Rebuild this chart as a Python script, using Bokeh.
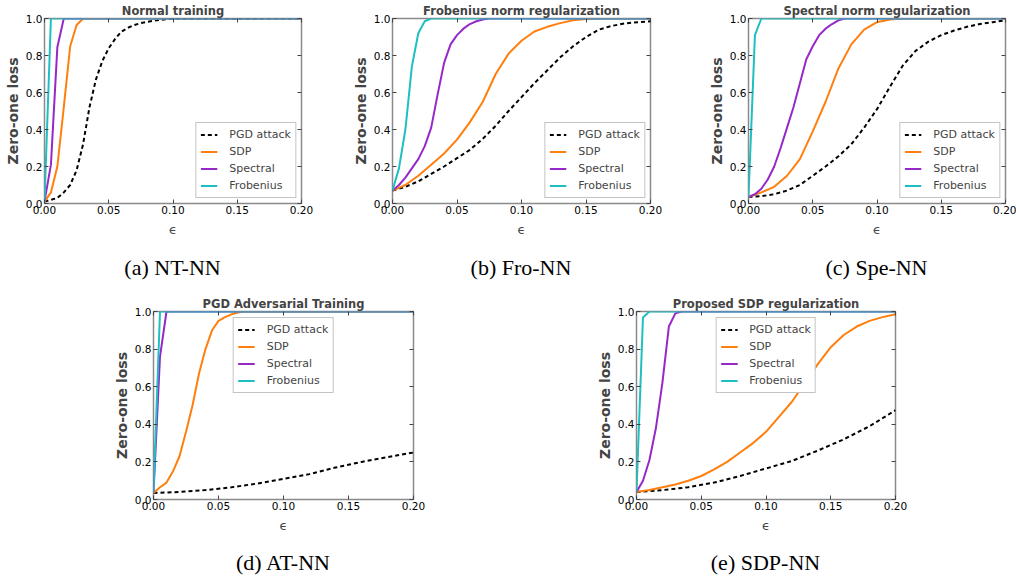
from bokeh.plotting import figure
from bokeh.layouts import column, row
from bokeh.models import (Range1d, FixedTicker, PrintfTickFormatter, LinearAxis,
                          Legend, LegendItem, CustomJSTickFormatter, Div, Spacer)
from bokeh.embed import file_html
from bokeh.resources import INLINE

# ---------------- data ----------------
x10 = [0.00, 0.01, 0.02, 0.03, 0.04, 0.05, 0.06, 0.07, 0.08, 0.09, 0.10,
       0.11, 0.12, 0.13, 0.14, 0.15, 0.16, 0.17, 0.18, 0.19, 0.20]
x20 = [0.00, 0.02, 0.04, 0.06, 0.08, 0.10, 0.12, 0.14, 0.16, 0.18, 0.20]

# (a) Normal training
a_pgd_x = [0, .005, .01, .015, .02, .025, .03, .035, .04, .045, .05, .055, .06, .065,
           .07, .075, .08, .085, .09, .095, .10, .20]
a_pgd_y = [.01, .02, .03, .06, .10, .18, .32, .52, .67, .77, .84, .89, .93, .95,
           .965, .975, .982, .988, .992, .996, .998, 1.0]
a_sdp_x = [0, .005, .01, .015, .02, .025, .03, .20]
a_sdp_y = [.01, .06, .20, .52, .85, .965, 1.0, 1.0]
a_spe_x = [0, .005, .01, .015, .20]
a_spe_y = [.01, .21, .845, 1.0, 1.0]
a_fro_x = [0, .005, .20]
a_fro_y = [.01, 1.0, 1.0]

# (b) Frobenius norm regularization
b_pgd_y = [.07, .09, .12, .16, .20, .245, .29, .35, .42, .50, .575, .65, .72, .79,
           .85, .90, .94, .96, .973, .98, .985]
b_sdp_y = [.07, .10, .15, .21, .27, .345, .44, .55, .70, .81, .88, .93, .955, .975,
           .99, .997, 1.0, 1.0, 1.0, 1.0, 1.0]
b_spe_x = [0, .005, .01, .015, .02, .025, .03, .035, .04, .045, .05, .055, .06, .065,
           .07, .075, .20]
b_spe_y = [.07, .10, .14, .19, .24, .31, .41, .59, .76, .86, .91, .945, .97, .985,
           .995, 1.0, 1.0]
b_fro_x = [0, .005, .01, .015, .02, .025, .03, .20]
b_fro_y = [.07, .19, .40, .74, .92, .985, 1.0, 1.0]

# (c) Spectral norm regularization
c_pgd_y = [.035, .04, .05, .07, .10, .15, .20, .255, .32, .41, .51, .63, .745, .825,
           .875, .91, .935, .955, .97, .98, .99]
c_sdp_y = [.035, .06, .09, .15, .24, .39, .55, .73, .86, .94, .98, .995, 1.0, 1.0,
           1.0, 1.0, 1.0, 1.0, 1.0, 1.0, 1.0]
c_spe_x = [0, .005, .01, .015, .02, .025, .03, .035, .04, .045, .05, .055, .06, .065,
           .07, .075, .20]
c_spe_y = [.035, .05, .08, .13, .20, .30, .41, .52, .65, .78, .85, .91, .945, .97,
           .99, 1.0, 1.0]
c_fro_x = [0, .005, .01, .20]
c_fro_y = [.035, .91, 1.0, 1.0]

# (d) PGD adversarial training
d_pgd_y = [.035, .04, .05, .065, .085, .11, .135, .17, .20, .225, .25]
d_sdp_x = [0, .005, .01, .015, .02, .025, .03, .035, .04, .045, .05, .055, .06, .065,
           .07, .20]
d_sdp_y = [.035, .065, .09, .15, .23, .36, .50, .67, .80, .90, .95, .97, .985, .995,
           1.0, 1.0]
d_spe_x = [0, .005, .01, .20]
d_spe_y = [.035, .76, 1.0, 1.0]
d_fro_x = [0, .005, .20]
d_fro_y = [.035, 1.0, 1.0]

# (e) Proposed SDP regularization
e_pgd_y = [.04, .05, .065, .09, .125, .165, .205, .26, .32, .39, .475]
e_sdp_y = [.04, .05, .065, .08, .10, .125, .16, .20, .25, .30, .36, .44, .52, .62,
           .72, .81, .875, .92, .95, .97, .985]
e_spe_x = [0, .005, .01, .015, .02, .025, .03, .035, .20]
e_spe_y = [.04, .10, .21, .38, .62, .92, .99, 1.0, 1.0]
e_fro_x = [0, .005, .01, .20]
e_fro_y = [.04, .968, 1.0, 1.0]

series_names = ["PGD attack", "SDP", "Spectral", "Frobenius"]
x_ticks = [0.0, 0.05, 0.10, 0.15, 0.20]
y_ticks = [0.0, 0.2, 0.4, 0.6, 0.8, 1.0]

titles = ["Normal training", "Frobenius norm regularization", "Spectral norm regularization",
          "PGD Adversarial Training", "Proposed SDP regularization"]
captions = ["(a) NT-NN", "(b) Fro-NN", "(c) Spe-NN", "(d) AT-NN", "(e) SDP-NN"]

COLORS = ["black", "#ff7f0e", "#9628c8", "#1ebfc3"]
DASH = ["4 3", "solid", "solid", "solid"]
FRAME = "#8a8a8a"


def make_panel(title, caption, lines, legend_loc, width, height, bl, bt, br, bb,
               cap_h, cap_pad):
    p = figure(width=width, height=height, output_backend="svg", toolbar_location=None,
               x_range=Range1d(0, 0.2), y_range=Range1d(0, 1),
               min_border_left=bl, min_border_top=bt, min_border_right=br,
               min_border_bottom=bb)
    p.title.text = title
    p.title.align = "center"
    p.title.text_font = "DejaVu Sans"
    p.title.text_font_style = "bold"
    p.title.text_font_size = "11.5px"
    p.title.standoff = 2
    p.title.offset = 0
    p.grid.visible = False
    p.outline_line_color = FRAME
    p.outline_line_width = 1.5
    p.background_fill_color = "white"
    p.border_fill_color = "white"

    for ax, ticks, fmt in ((p.xaxis, x_ticks, "%.2f"), (p.yaxis, y_ticks, "%.1f")):
        ax.ticker = FixedTicker(ticks=ticks)
        ax.formatter = PrintfTickFormatter(format=fmt)
        ax.axis_line_color = None
        ax.major_tick_in = 4
        ax.major_tick_out = 0
        ax.major_tick_line_color = "#444444"
        ax.minor_tick_line_color = None
        ax.major_label_text_font = "DejaVu Sans"
        ax.major_label_text_font_size = "10.5px"
        ax.major_label_text_color = "black"
        ax.major_label_standoff = 2

    p.yaxis.axis_label = "Zero-one loss"
    p.yaxis.axis_label_text_font = "DejaVu Sans"
    p.yaxis.axis_label_text_font_style = "bold"
    p.yaxis.axis_label_text_font_size = "14px"
    p.yaxis.axis_label_standoff = 2
    p.xaxis.axis_label = "ϵ"
    p.xaxis.axis_label_text_font = "DejaVu Sans"
    p.xaxis.axis_label_text_font_style = "normal"
    p.xaxis.axis_label_text_font_size = "13px"
    p.xaxis.axis_label_standoff = 5

    blank = CustomJSTickFormatter(code="return ''")
    p.add_layout(LinearAxis(ticker=FixedTicker(ticks=y_ticks), formatter=blank,
                            axis_line_color=None, major_tick_in=4, major_tick_out=0,
                            major_tick_line_color="#444444", minor_tick_line_color=None,
                            major_label_standoff=0), "right")
    p.add_layout(LinearAxis(ticker=FixedTicker(ticks=x_ticks), formatter=blank,
                            axis_line_color=None, major_tick_in=4, major_tick_out=0,
                            major_tick_line_color="#444444", minor_tick_line_color=None,
                            major_label_standoff=0), "above")

    items = []
    for name, (xs, ys), col, dash in zip(series_names, lines, COLORS, DASH):
        r = p.line(xs, ys, line_color=col, line_width=2, line_dash=dash)
        items.append(LegendItem(label=name, renderers=[r]))

    leg = Legend(items=items, location=legend_loc)
    leg.label_text_font = "DejaVu Sans"
    leg.label_text_font_size = "11px"
    leg.glyph_width = 17
    leg.glyph_height = 15
    leg.label_height = 15
    leg.label_standoff = 12
    leg.spacing = 2
    leg.padding = 4
    leg.margin = 5 if legend_loc == "bottom_right" else 6
    leg.border_line_color = FRAME
    leg.border_line_width = 1.2
    leg.background_fill_alpha = 1.0
    p.add_layout(leg)

    frame_w = width - bl - br
    html = (f'<div style="display:block; width:{frame_w}px; text-align:center; '
            'font-family:\'Liberation Serif\'; font-size:22px; line-height:22px; '
            f'color:black; white-space:nowrap; padding-top:{cap_pad}px;">{caption}</div>')
    cap = Div(text=html, width=frame_w, height=cap_h, margin=0,
              styles={"text-align": "center", "width": f"{frame_w}px"})
    cap_row = row(Spacer(width=bl, height=cap_h, margin=0), cap,
                  Spacer(width=br, height=cap_h, margin=0), spacing=0)
    return column(p, cap_row, spacing=0)


pa = make_panel(titles[0], captions[0],
                [(a_pgd_x, a_pgd_y), (a_sdp_x, a_sdp_y), (a_spe_x, a_spe_y), (a_fro_x, a_fro_y)],
                "bottom_right", 340, 250, 44, 18, 39, 47, 40, 7)
pb = make_panel(titles[1], captions[1],
                [(x10, b_pgd_y), (x10, b_sdp_y), (b_spe_x, b_spe_y), (b_fro_x, b_fro_y)],
                "bottom_right", 340, 250, 52, 18, 30, 47, 40, 7)
pc = make_panel(titles[2], captions[2],
                [(x10, c_pgd_y), (x10, c_sdp_y), (c_spe_x, c_spe_y), (c_fro_x, c_fro_y)],
                "bottom_right", 336, 250, 68, 18, 11, 47, 40, 7)
pd = make_panel(titles[3], captions[3],
                [(x20, d_pgd_y), (d_sdp_x, d_sdp_y), (d_spe_x, d_spe_y), (d_fro_x, d_fro_y)],
                "top_center", 460, 256, 153, 21, 47, 47, 32, 6)
pe = make_panel(titles[4], captions[4],
                [(x20, e_pgd_y), (x10, e_sdp_y), (e_spe_x, e_spe_y), (e_fro_x, e_fro_y)],
                "top_center", 556, 256, 176, 21, 121, 47, 32, 6)

layout = column(row(pa, pb, pc, spacing=0), row(pd, pe, spacing=0), spacing=0)
open("out.html", "w").write(file_html(layout, INLINE))
